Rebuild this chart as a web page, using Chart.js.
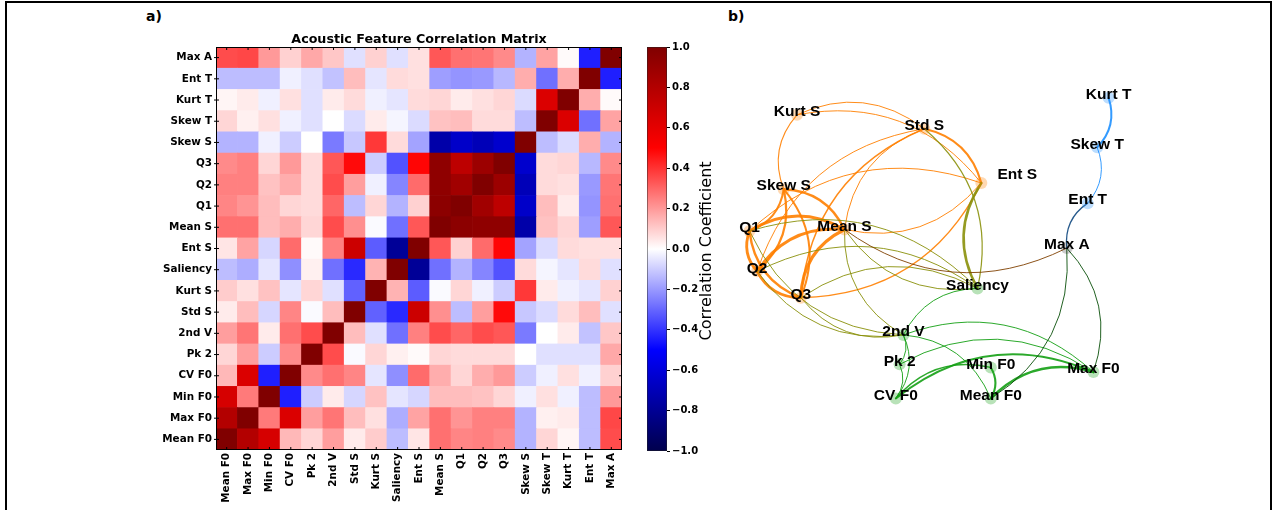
<!DOCTYPE html>
<html>
<head>
<meta charset="utf-8">
<script src="https://cdn.jsdelivr.net/npm/chart.js@4.4.0/dist/chart.umd.min.js"></script>
<style>
  html, body { margin: 0; padding: 0; background: #fff; overflow: hidden; }
  #page { position: relative; width: 1273px; height: 510px; }
  #frame { position: absolute; left: 5px; top: 1px; width: 1267px; height: 560px; border: 2px solid #000; box-sizing: border-box; }
  .box { position: absolute; top: 0; height: 510px; }
  .panel { position: absolute; font: bold 14px 'DejaVu Sans'; color: #000; }
</style>
</head>
<body>
<div id="page">
  <div id="frame"></div>
  <div class="panel" style="left:146px; top:8px;">a)</div>
  <div class="panel" style="left:728px; top:8px;">b)</div>
  <div class="box" style="left:0; width:640px;"><canvas id="heat"></canvas></div>
  <div class="box" style="left:640px; width:90px;"><canvas id="cbar"></canvas></div>
  <div class="box" style="left:720px; width:553px;"><canvas id="net"></canvas></div>
</div>
<script>
// ---- panel a: correlation matrix ----
const features = ['Mean F0', 'Max F0', 'Min F0', 'CV F0', 'Pk 2', '2nd V', 'Std S', 'Kurt S', 'Saliency',
  'Ent S', 'Mean S', 'Q1', 'Q2', 'Q3', 'Skew S', 'Skew T', 'Kurt T', 'Ent T', 'Max A'];

// rows and columns in the order of features (Mean F0 row is drawn at the bottom)
const corr = [
  [ 1.00, 0.80, 0.66, 0.14, 0.08, 0.19, 0.04, 0.10,-0.13, 0.05, 0.28, 0.24, 0.25, 0.23,-0.15, 0.08, 0.02,-0.13, 0.35], // Mean F0
  [ 0.80, 1.00, 0.26, 0.64, 0.19, 0.27, 0.13, 0.06,-0.16, 0.18, 0.28, 0.21, 0.25, 0.25,-0.15, 0.03, 0.04,-0.13, 0.36], // Max F0
  [ 0.66, 0.26, 1.00,-0.44,-0.10, 0.04,-0.08, 0.12,-0.05,-0.08, 0.13, 0.13, 0.12, 0.08,-0.03, 0.06,-0.03,-0.13, 0.20], // Min F0
  [ 0.14, 0.64,-0.44, 1.00, 0.23, 0.28, 0.24,-0.05,-0.22, 0.29, 0.16, 0.08, 0.16, 0.20,-0.10,-0.03, 0.06,-0.03, 0.09], // CV F0
  [ 0.08, 0.19,-0.10, 0.23, 1.00, 0.35,-0.01, 0.08, 0.03, 0.01, 0.08, 0.07, 0.07, 0.07, 0.00,-0.06,-0.06,-0.06, 0.17], // Pk 2
  [ 0.19, 0.27, 0.04, 0.28, 0.35, 1.00, 0.13,-0.06,-0.28, 0.25, 0.35, 0.30, 0.35, 0.33,-0.26, 0.00, 0.04,-0.12, 0.11], // 2nd V
  [ 0.04, 0.13,-0.08, 0.24,-0.01, 0.13, 1.00,-0.31,-0.42, 0.70, 0.22,-0.13, 0.19, 0.48,-0.11,-0.07, 0.07, 0.13,-0.06], // Std S
  [ 0.10, 0.06, 0.12,-0.05, 0.08,-0.06,-0.31, 1.00, 0.15,-0.32,-0.01, 0.08,-0.03,-0.10, 0.39, 0.04,-0.03,-0.05, 0.09], // Kurt S
  [-0.13,-0.16,-0.05,-0.22, 0.03,-0.28,-0.42, 0.15, 1.00,-0.79,-0.28,-0.15,-0.24,-0.34, 0.07,-0.02,-0.05, 0.07,-0.06], // Saliency
  [ 0.05, 0.18,-0.08, 0.29, 0.01, 0.25, 0.70,-0.32,-0.79, 1.00, 0.33, 0.09, 0.29, 0.49,-0.18,-0.07, 0.07, 0.06, 0.06], // Ent S
  [ 0.28, 0.28, 0.13, 0.16, 0.08, 0.35, 0.22,-0.01,-0.28, 0.33, 1.00, 0.95, 0.94, 0.94,-0.74, 0.12, 0.08,-0.19, 0.33], // Mean S
  [ 0.24, 0.21, 0.13, 0.08, 0.07, 0.30,-0.13, 0.08,-0.15, 0.09, 0.95, 1.00, 0.87, 0.76,-0.65, 0.13, 0.04,-0.21, 0.28], // Q1
  [ 0.25, 0.25, 0.12, 0.16, 0.07, 0.35, 0.19,-0.03,-0.24, 0.29, 0.94, 0.87, 1.00, 0.89,-0.70, 0.07, 0.06,-0.20, 0.27], // Q2
  [ 0.23, 0.25, 0.08, 0.20, 0.07, 0.33, 0.48,-0.10,-0.34, 0.49, 0.94, 0.76, 0.89, 1.00,-0.64, 0.07, 0.08,-0.14, 0.23], // Q3
  [-0.15,-0.15,-0.03,-0.10, 0.00,-0.26,-0.11, 0.39, 0.07,-0.18,-0.74,-0.65,-0.70,-0.64, 1.00,-0.13,-0.07, 0.16,-0.15], // Skew S
  [ 0.08, 0.03, 0.06,-0.03,-0.06, 0.00,-0.07, 0.04,-0.02,-0.07, 0.12, 0.13, 0.07, 0.07,-0.13, 1.00, 0.64,-0.28, 0.18], // Skew T
  [ 0.02, 0.04,-0.03, 0.06,-0.06, 0.04, 0.07,-0.03,-0.05, 0.07, 0.08, 0.04, 0.06, 0.08,-0.07, 0.64, 1.00, 0.16, 0.01], // Kurt T
  [-0.13,-0.13,-0.13,-0.03,-0.06,-0.12, 0.13,-0.05, 0.07, 0.06,-0.19,-0.21,-0.20,-0.14, 0.16,-0.28, 0.16, 1.00,-0.44], // Ent T
  [ 0.35, 0.36, 0.20, 0.09, 0.17, 0.11,-0.06, 0.09,-0.06, 0.06, 0.33, 0.28, 0.27, 0.23,-0.15, 0.18, 0.01,-0.44, 1.00]  // Max A
];

const cbarTicks = [-1, -0.8, -0.6, -0.4, -0.2, 0, 0.2, 0.4, 0.6, 0.8, 1];

// ---- panel b: network ----
const nodeNames = ['Kurt S', 'Std S', 'Ent S', 'Skew S', 'Q1', 'Mean S', 'Q2', 'Q3', 'Saliency', '2nd V',
  'Pk 2', 'CV F0', 'Min F0', 'Mean F0', 'Max F0', 'Max A', 'Ent T', 'Skew T', 'Kurt T'];
const nodeX = [-0.70, -0.03, 0.27, -0.77, -0.95, -0.45, -0.91, -0.68, 0.25, -0.14,
  -0.16, -0.18, 0.32, 0.32, 0.86, 0.72, 0.83, 0.88, 0.94];
const nodeY = [0.84, 0.75, 0.40, 0.36, 0.09, 0.10, -0.17, -0.34, -0.28, -0.58,
  -0.77, -0.99, -0.79, -0.99, -0.82, -0.02, 0.27, 0.63, 0.95];
const nodeGroup = ['spec', 'spec', 'spec', 'spec', 'spec', 'spec', 'spec', 'spec', 'pitch', 'pitch',
  'pitch', 'pitch', 'pitch', 'pitch', 'pitch', 'amp', 'temp', 'temp', 'temp'];
const edges = [
  ['Std S', 'Kurt S'], ['Ent S', 'Kurt S'], ['Kurt S', 'Skew S'], ['Ent S', 'Std S'], ['Std S', 'Q3'],
  ['Std S', 'Q2'], ['Std S', 'Mean S'], ['Mean S', 'Ent S'], ['Q3', 'Ent S'], ['Ent S', 'Q1'],
  ['Mean S', 'Q1'], ['Mean S', 'Q2'], ['Mean S', 'Q3'], ['Mean S', 'Skew S'], ['Q1', 'Q2'],
  ['Q1', 'Q3'], ['Q1', 'Skew S'], ['Q2', 'Q3'], ['Q2', 'Skew S'], ['Q3', 'Skew S'],
  ['Ent S', 'Saliency'], ['Saliency', 'Std S'], ['Saliency', 'Q1'], ['Saliency', 'Q2'], ['Mean S', 'Saliency'],
  ['Saliency', 'Q3'], ['Mean S', '2nd V'], ['Q1', '2nd V'], ['Q2', '2nd V'], ['Q3', '2nd V'],
  ['Mean S', 'Max A'],
  ['Max F0', 'CV F0'], ['Max F0', 'Mean F0'], ['Mean F0', 'Min F0'], ['Min F0', 'CV F0'], ['Pk 2', '2nd V'],
  ['CV F0', '2nd V'], ['CV F0', 'Pk 2'], ['Max F0', '2nd V'], ['Max F0', 'Pk 2'], ['Mean F0', '2nd V'],
  ['Saliency', '2nd V'],
  ['Max F0', 'Max A'], ['Mean F0', 'Max A'],
  ['Skew T', 'Kurt T'], ['Ent T', 'Skew T'], ['Ent T', 'Max A']
];

// ---- styles ----
const groupRGB = { spec: [255, 128, 0], pitch: [20, 160, 20], temp: [30, 144, 255], amp: [0, 0, 0] };
const labelShift = { 'Ent S': [36, -8] };
const EDGE_RAD = 0.3;
const tickFont = { family: 'DejaVu Sans', size: 10.4, weight: 'bold' };

function seismic(v) {
  const t = Math.max(0, Math.min(1, (v + 1) / 2));
  const st = [[0, 0, 0, 0.3], [0.25, 0, 0, 1], [0.5, 1, 1, 1], [0.75, 1, 0, 0], [1, 0.5, 0, 0]];
  for (let i = 1; i < st.length; i++) {
    if (t <= st[i][0]) {
      const a = st[i - 1], b = st[i], f = (t - a[0]) / (b[0] - a[0]);
      const c = [1, 2, 3].map(k => Math.round(255 * (a[k] + f * (b[k] - a[k]))));
      return 'rgb(' + c.join(',') + ')';
    }
  }
  return 'rgb(128,0,0)';
}

const heatDecor = {
  id: 'heatDecor',
  afterDraw(chart) {
    const { ctx, chartArea: a } = chart;
    const n = features.length;
    const cw = (a.right - a.left) / n, ch = (a.bottom - a.top) / n;
    ctx.save();
    ctx.strokeStyle = '#000';
    ctx.lineWidth = 1;
    ctx.strokeRect(a.left + 0.5, a.top + 0.5, a.right - a.left - 1, a.bottom - a.top - 1);
    ctx.beginPath();
    for (let i = 0; i < n; i++) {
      const x = a.left + cw * (i + 0.5), y = a.top + ch * (i + 0.5);
      ctx.moveTo(x, a.bottom); ctx.lineTo(x, a.bottom - 3);
      ctx.moveTo(x, a.top); ctx.lineTo(x, a.top + 3);
      ctx.moveTo(a.left - 2, y); ctx.lineTo(a.left + 3, y);
      ctx.moveTo(a.right, y); ctx.lineTo(a.right - 3, y);
    }
    ctx.stroke();
    ctx.fillStyle = '#000';
    ctx.font = 'bold 12.7px "DejaVu Sans"';
    ctx.textAlign = 'center';
    ctx.textBaseline = 'middle';
    ctx.fillText('Acoustic Feature Correlation Matrix', (a.left + a.right) / 2, 40);
    ctx.restore();
  }
};

new Chart(document.getElementById('heat'), {
  type: 'bar',
  data: {
    labels: features,
    datasets: features.map((rowName, r) => ({
      label: rowName,
      data: features.map(() => 1),
      backgroundColor: corr[r].map(seismic),
      borderWidth: 0,
      barPercentage: 1,
      categoryPercentage: 1
    }))
  },
  options: {
    responsive: true,
    maintainAspectRatio: false,
    animation: false,
    layout: { padding: { left: 0, top: 47, right: 18, bottom: 0 } },
    plugins: { legend: { display: false }, tooltip: { enabled: false } },
    scales: {
      x: {
        stacked: true,
        grid: { display: false, tickLength: 0 },
        border: { display: false },
        ticks: { autoSkip: false, minRotation: 90, maxRotation: 90, color: '#000', font: tickFont, padding: 3 },
        afterFit: s => { s.height = 60; }
      },
      y: {
        stacked: true,
        min: 0,
        max: features.length,
        grid: { display: false, tickLength: 0 },
        border: { display: false },
        afterBuildTicks: s => { s.ticks = features.map((f, i) => ({ value: i + 0.5 })); },
        ticks: { autoSkip: false, color: '#000', font: tickFont, padding: 4,
          callback: v => features[Math.floor(v)] },
        afterFit: s => { s.width = 216; }
      }
    }
  },
  plugins: [heatDecor]
});

// ---- colorbar ----
const cbarTitle = {
  id: 'cbarTitle',
  afterDraw(chart) {
    const { ctx, chartArea: a } = chart;
    ctx.save();
    ctx.translate(67, (a.top + a.bottom) / 2 + 2);
    ctx.rotate(-Math.PI / 2);
    ctx.fillStyle = '#000';
    ctx.font = '16px "DejaVu Sans"';
    ctx.textAlign = 'center';
    ctx.textBaseline = 'middle';
    ctx.fillText('Correlation Coefficient', 0, 0);
    ctx.restore();
  }
};

new Chart(document.getElementById('cbar'), {
  type: 'bar',
  data: {
    labels: [''],
    datasets: [{
      data: [[-1, 1]],
      backgroundColor: c => {
        const a = c.chart.chartArea;
        if (!a) return '#fff';
        const g = c.chart.ctx.createLinearGradient(0, a.bottom, 0, a.top);
        for (let i = 0; i <= 40; i++) g.addColorStop(i / 40, seismic(-1 + i / 20));
        return g;
      },
      borderColor: '#222',
      borderWidth: 0.8,
      borderSkipped: false,
      barPercentage: 1,
      categoryPercentage: 1
    }]
  },
  options: {
    responsive: true,
    maintainAspectRatio: false,
    animation: false,
    layout: { padding: { left: 7, top: 47, right: 0, bottom: 59 } },
    plugins: { legend: { display: false }, tooltip: { enabled: false } },
    scales: {
      x: { display: false },
      y: {
        position: 'right',
        min: -1,
        max: 1,
        afterBuildTicks: s => { s.ticks = cbarTicks.map(v => ({ value: v })); },
        grid: { drawOnChartArea: false, tickLength: 3, color: '#000' },
        border: { display: false },
        ticks: { color: '#000', font: { family: 'DejaVu Sans', size: 10, weight: 'bold' }, padding: 2,
          callback: v => (Math.abs(v) < 1e-9 ? '0.0' : v.toFixed(1)).replace('-', '\u2212') },
        afterFit: s => { s.width = 63; }
      }
    }
  },
  plugins: [cbarTitle]
});

// ---- network ----
function rgba(c, a) { return 'rgba(' + c.join(',') + ',' + a + ')'; }

const networkDraw = {
  id: 'networkDraw',
  beforeDatasetsDraw(chart) {
    const { ctx, scales: { x, y } } = chart;
    const pos = name => {
      const i = nodeNames.indexOf(name);
      return [x.getPixelForValue(nodeX[i]), y.getPixelForValue(nodeY[i]), nodeGroup[i]];
    };
    ctx.save();
    ctx.lineCap = 'round';
    edges.forEach(([a, b]) => {
      const [x1, y1, ga] = pos(a), [x2, y2, gb] = pos(b);
      const dx = x2 - x1, dy = y2 - y1;
      const cx = (x1 + x2) / 2 - EDGE_RAD * dy, cy = (y1 + y2) / 2 + EDGE_RAD * dx;
      const r = Math.abs(corr[features.indexOf(a)][features.indexOf(b)]);
      const col = groupRGB[ga].map((v, k) => Math.round((v + groupRGB[gb][k]) / 2));
      ctx.strokeStyle = rgba(col, 0.9);
      ctx.lineWidth = Math.max(1, 3.6 * r - 0.3);
      ctx.beginPath();
      ctx.moveTo(x1, y1);
      ctx.quadraticCurveTo(cx, cy, x2, y2);
      ctx.stroke();
    });
    ctx.restore();
  },
  afterDatasetsDraw(chart) {
    const { ctx, scales: { x, y } } = chart;
    ctx.save();
    ctx.fillStyle = '#000';
    ctx.font = 'bold 15.5px "Liberation Sans"';
    ctx.textAlign = 'center';
    ctx.textBaseline = 'middle';
    nodeNames.forEach((name, i) => {
      const sh = labelShift[name] || [0, -3];
      ctx.fillText(name, x.getPixelForValue(nodeX[i]) + sh[0], y.getPixelForValue(nodeY[i]) + sh[1]);
    });
    ctx.restore();
  }
};

new Chart(document.getElementById('net'), {
  type: 'scatter',
  data: {
    datasets: Object.keys(groupRGB).map(g => ({
      label: g,
      data: nodeNames.map((n, i) => ({ x: nodeX[i], y: nodeY[i], g: nodeGroup[i] })).filter(p => p.g === g),
      backgroundColor: rgba(groupRGB[g], g === 'amp' ? 0.2 : 0.3),
      borderWidth: 0,
      pointRadius: 6,
      clip: false
    }))
  },
  options: {
    responsive: true,
    maintainAspectRatio: false,
    animation: false,
    layout: { padding: { left: 20, right: 153, top: 90, bottom: 110 } },
    plugins: { legend: { display: false }, tooltip: { enabled: false } },
    scales: {
      x: { display: false, min: -1, max: 1 },
      y: { display: false, min: -1, max: 1 }
    }
  },
  plugins: [networkDraw]
});
</script>
</body>
</html>
